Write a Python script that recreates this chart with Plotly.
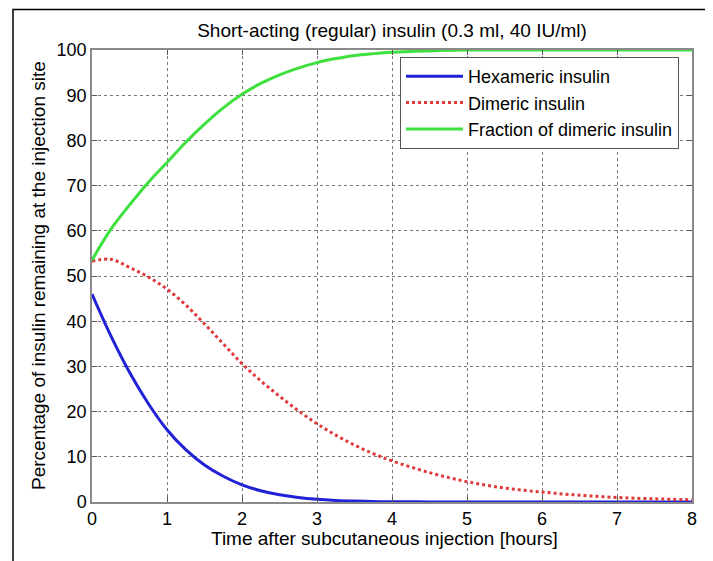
import plotly.graph_objects as go

# Time points [hours]
t = [0, 0.25, 0.5, 0.75, 1, 1.25, 1.5, 1.75, 2, 2.25, 2.5, 2.75, 3, 3.25, 3.5, 3.75,
     4, 4.5, 5, 5.5, 6, 6.5, 7, 7.5, 8]

hexameric = [46, 36.8, 28.7, 21.8, 16.0, 11.6, 8.2, 5.7, 3.8, 2.5, 1.6, 1.0, 0.6, 0.35, 0.2, 0.1,
             0.05, 0.02, 0, 0, 0, 0, 0, 0, 0]

dimeric = [53.3, 53.7, 51.9, 49.8, 47.1, 43.6, 39.4, 35.0, 30.6, 26.8, 23.4, 20.2, 17.3, 14.8, 12.6, 10.7,
           9.1, 6.5, 4.5, 3.1, 2.2, 1.5, 1.0, 0.7, 0.5]

fraction = [53.5, 60.3, 65.7, 70.7, 75.1, 79.6, 83.6, 87.2, 90.2, 92.6, 94.5, 96.0, 97.2, 98.1, 98.8, 99.2,
            99.5, 99.8, 100, 100, 100, 100, 100, 100, 100]

names = ["Hexameric insulin", "Dimeric insulin", "Fraction of dimeric insulin"]
title_text = "Short-acting (regular) insulin (0.3 ml, 40 IU/ml)"
x_title = "Time after subcutaneous injection [hours]"
y_title = "Percentage of insulin remaining at the injection site"

FONT = "Liberation Sans, Arial, sans-serif"

# plot area in figure pixels (page is offset by the 8px body margin)
L, R, T, B = 84, 684, 42, 494
W, H = 713, 561
PW, PH = R - L, B - T

fig = go.Figure()
fig.add_trace(go.Scatter(x=t, y=hexameric, name=names[0], mode="lines", line_shape="spline",
                         line=dict(color="#2121d6", width=3)))
fig.add_trace(go.Scatter(x=t, y=dimeric, name=names[1], mode="lines", line_shape="spline",
                         line=dict(color="#e0393b", width=3, dash="dot")))
fig.add_trace(go.Scatter(x=t, y=fraction, name=names[2], mode="lines", line_shape="spline",
                         line=dict(color="#3ee03e", width=3)))

axis_common = dict(
    showline=True, linecolor="#8a8a8a", linewidth=1.5, mirror="allticks",
    ticks="inside", ticklen=5, tickcolor="#555555",
    showgrid=True, gridcolor="#777777", griddash="dot", gridwidth=1,
    zeroline=False, automargin=False,
    tickfont=dict(size=18, color="black", family=FONT),
)

fig.update_layout(
    width=W, height=H,
    margin=dict(l=L, r=W - R, t=T, b=H - B),
    paper_bgcolor="white", plot_bgcolor="white",
    font=dict(family=FONT, color="black"),
    title=dict(text=title_text, xref="paper", x=0.5, xanchor="center",
               yref="container", y=1 - 22 / H, yanchor="middle",
               font=dict(size=19, color="black", family=FONT)),
    xaxis=dict(range=[0, 8], dtick=1, tick0=0, **axis_common),
    yaxis=dict(range=[0, 100], dtick=10, tick0=0, **axis_common),
    legend=dict(x=(392 - L) / PW, y=(B - 49) / PH, xanchor="left", yanchor="top",
                bgcolor="white", bordercolor="#555555", borderwidth=1,
                font=dict(size=18, family=FONT, color="black"),
                tracegroupgap=0, itemwidth=57),
    showlegend=True,
    annotations=[
        dict(text=x_title, xref="paper", yref="paper", x=0.4875, y=(B - 530) / PH,
             xanchor="center", yanchor="middle", showarrow=False,
             font=dict(size=19, family=FONT, color="black")),
        dict(text=y_title, xref="paper", yref="paper", x=(30 - L) / PW, y=0.5,
             xanchor="center", yanchor="middle", textangle=-90, showarrow=False,
             font=dict(size=19, family=FONT, color="black")),
    ],
    shapes=[dict(type="rect", xref="paper", yref="paper",
                 x0=(5 - L) / PW, x1=(699 - L) / PW,
                 y0=(B - 600) / PH, y1=(B - 1.5) / PH,
                 line=dict(color="black", width=1.5), fillcolor="rgba(0,0,0,0)",
                 layer="below")],
)

fig.write_html("out.html")
